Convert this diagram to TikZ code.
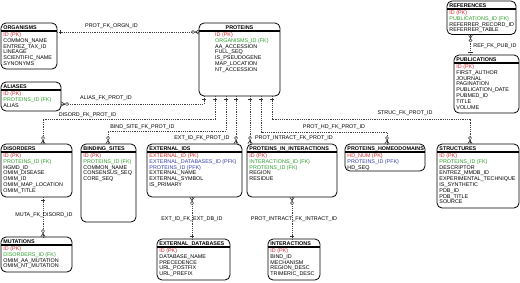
\documentclass[tikz,border=0pt]{standalone}
\usepackage{fontspec}
\setmainfont{Liberation Sans}
\usetikzlibrary{calc}
\definecolor{pkred}{RGB}{215,40,45}
\definecolor{fkgreen}{RGB}{45,160,45}
\definecolor{pfkblue}{RGB}{55,65,175}
\newcommand{\pk}[1]{\textcolor{pkred}{#1}}
\newcommand{\fk}[1]{\textcolor{fkgreen}{#1}}
\newcommand{\pfk}[1]{\textcolor{pfkblue}{#1}}
\tikzset{
 ebox/.style={draw=black, line width=0.8pt, rounded corners=5pt, inner sep=0pt, outer sep=0pt, anchor=north west, fill=white},
 titleline/.style={line width=1.3pt},
 ttext/.style={font=\fontsize{5.4}{6}\selectfont\bfseries, inner sep=0pt},
 ftext/.style={font=\fontsize{5.4}{6}\selectfont, inner sep=0pt},
 lbl/.style={font=\fontsize{5.4}{6}\selectfont, inner sep=0pt},
 conn/.style={draw=black!75, line width=0.5pt, dash pattern=on 1.2pt off 1pt},
 mk/.style={draw=black!80, line width=0.5pt, solid},
 crow/.pic={\draw[mk] (0,-2.2) -- (4,0) -- (0,2.2) (0,0) -- (4,0); \draw[mk, fill=white] (6,0) circle (1.6pt);},
 one/.pic={\draw[mk] (3,-2.2) -- (3,2.2);},
}
% #1 name, #2 x1, #3 y1, #4 x2, #5 y2, #6 title, #7 field x offset, #8 fields
\newcommand{\entity}[8]{%
 \node[ebox, minimum width={(#4-#2)*1pt}, minimum height={(#5-#3)*1pt}] (#1) at (#2,#3) {};
 \draw[titleline] (#2,#3+8) -- (#4,#3+8);
 \node[ttext, anchor=base west] (#1-t) at (#2+2.2,#3+6.5) {#6};
 \foreach \f [count=\i] in {#8} \node[ftext, anchor=base west] (#1-f\i) at (#2+#7,#3+7.7+5.8*\i) {\f};
}
\begin{document}
\begin{tikzpicture}[x=1pt,y=-1pt]
\useasboundingbox[fill=white] (0,0) rectangle (520,282);

\entity{organisms}{1}{23}{57}{69}{ORGANISMS}{2.2}{\pk{ID (PK)}, COMMON\_NAME, ENTREZ\_TAX\_ID, LINEAGE, SCIENTIFIC\_NAME, SYNONYMS}
\entity{proteins}{199}{23}{280}{96}{}{16}{\pk{ID (PK)}, \fk{ORGANISMS\_ID (FK)}, AA\_ACCESSION, FULL\_SEQ, IS\_PSEUDOGENE, MAP\_LOCATION, NT\_ACCESSION}
\node[ttext, anchor=base] (proteins-title) at (239.5,29.5) {PROTEINS};
\entity{references}{447}{1}{516}{34.5}{REFERENCES}{2.2}{\pk{ID (PK)}, \fk{PUBLICATIONS\_ID (FK)}, REFERRER\_RECORD\_ID, REFERRER\_TABLE}
\entity{publications}{454}{55}{519}{113}{PUBLICATIONS}{2.2}{\pk{ID (PK)}, FIRST\_AUTHOR, JOURNAL, PAGINATION, PUBLICATION\_DATE, PUBMED\_ID, TITLE, VOLUME}
\entity{aliases}{1}{82}{61}{111}{ALIASES}{2.2}{\pk{ID (PK)}, \fk{PROTEINS\_ID (FK)}, ALIAS}
\entity{disorders}{1}{144}{72}{197}{DISORDERS}{2.2}{\pk{ID (PK)}, \fk{PROTEINS\_ID (FK)}, HGMD\_ID, OMIM\_DISEASE, OMIM\_ID, OMIM\_MAP\_LOCATION, OMIM\_TITLE}
\entity{binding}{81}{144}{136}{222}{BINDING\_SITES}{2.2}{\pk{ID (PK)}, \fk{PROTEINS\_ID (FK)}, COMMON\_NAME, CONSENSUS\_SEQ, CORE\_SEQ}
\entity{extids}{147}{144}{242}{197}{EXTERNAL\_IDS}{2.2}{\pk{EXTERNAL\_ID (PK)}, \pfk{EXTERNAL\_DATABASES\_ID (PFK)}, \pfk{PROTEINS\_ID (PFK)}, EXTERNAL\_NAME, EXTERNAL\_SYMBOL, IS\_PRIMARY}
\entity{pii}{247}{144}{337}{197}{PROTEINS\_IN\_INTERACTIONS}{2.2}{\pk{ID (PK)}, \fk{INTERACTIONS\_ID (FK)}, \fk{PROTEINS\_ID (FK)}, REGION, RESIDUE}
\entity{homeo}{345}{144}{425}{171}{PROTEINS\_HOMEODOMAINS}{2.2}{\pk{HD\_NUM (PK)}, \pfk{PROTEINS\_ID (PFK)}, HD\_SEQ}
\entity{structures}{437}{144}{519}{208}{STRUCTURES}{2.2}{\pk{ID (PK)}, \fk{PROTEINS\_ID (FK)}, DESCRIPTOR, ENTREZ\_MMDB\_ID, EXPERIMENTAL\_TECHNIQUE, IS\_SYNTHETIC, PDB\_ID, PDB\_TITLE, SOURCE}
\entity{mutations}{1}{237}{72}{272}{MUTATIONS}{2.2}{\pk{ID (PK)}, \fk{DISORDERS\_ID (FK)}, OMIM\_AA\_MUTATION, OMIM\_NT\_MUTATION}
\entity{extdb}{157}{239}{230}{280}{EXTERNAL\_DATABASES}{2.2}{\pk{ID (PK)}, DATABASE\_NAME, PRECEDENCE, URL\_POSTFIX, URL\_PREFIX}
\entity{interactions}{268}{239}{320}{280}{INTERACTIONS}{2.2}{\pk{ID (PK)}, BIND\_ID, MECHANISM, REGION\_DESC, TRIMERIC\_DESC}

% connectors
\draw[conn] ([yshift=-9pt]organisms.north east) -- ([yshift=-9pt]proteins.north west);
\draw[conn] ([xshift=5pt]proteins.south west) |- ([yshift=-22pt]aliases.north east);
\draw[conn] ([xshift=16pt]proteins.south west) -- ++(0,23) -| ([xshift=42pt]disorders.north west);
\draw[conn] ([xshift=27pt]proteins.south west) -- ++(0,35) -| ([xshift=27pt]binding.north west);
\draw[conn] ([xshift=37pt]proteins.south west) -- ([xshift=89pt]extids.north west);
\draw[conn] ([xshift=51pt]proteins.south west) -- ([xshift=3pt]pii.north west);
\draw[conn] ([xshift=62pt]proteins.south west) -- ++(0,36) -| ([xshift=42pt]homeo.north west);
\draw[conn] ([xshift=73pt]proteins.south west) -- ++(0,23) -| ([xshift=33pt]structures.north west);
\draw[conn] ([xshift=23.5pt]references.south west) -- ([xshift=16.5pt]publications.north west);
\draw[conn] ([xshift=42pt]disorders.south west) -- ([xshift=42pt]mutations.north west);
\draw[conn] ([xshift=45pt]extids.south west) -- ([xshift=35pt]extdb.north west);
\draw[conn] ([xshift=45pt]pii.south west) -- ([xshift=24pt]interactions.north west);

% end markers
\pic at ([yshift=-9pt]organisms.north east) {one};
\pic[rotate=180] at ([yshift=-9pt]proteins.north west) {crow};
\foreach \s in {5,16,27,37,51,62,73} \pic[rotate=-90] at ([xshift=\s pt]proteins.south west) {one};
\pic at ([yshift=-22pt]aliases.north east) {crow};
\pic[rotate=90] at ([xshift=42pt]disorders.north west) {crow};
\pic[rotate=90] at ([xshift=27pt]binding.north west) {crow};
\pic[rotate=90] at ([xshift=89pt]extids.north west) {crow};
\pic[rotate=90] at ([xshift=3pt]pii.north west) {crow};
\pic[rotate=90] at ([xshift=42pt]homeo.north west) {crow};
\pic[rotate=90] at ([xshift=33pt]structures.north west) {crow};
\pic[rotate=-90] at ([xshift=23.5pt]references.south west) {crow};
\pic[rotate=90] at ([xshift=16.5pt]publications.north west) {one};
\pic[rotate=-90] at ([xshift=42pt]disorders.south west) {one};
\pic[rotate=90] at ([xshift=42pt]mutations.north west) {crow};
\pic[rotate=-90] at ([xshift=45pt]extids.south west) {crow};
\pic[rotate=90] at ([xshift=35pt]extdb.north west) {one};
\pic[rotate=-90] at ([xshift=45pt]pii.south west) {crow};
\pic[rotate=90] at ([xshift=24pt]interactions.north west) {one};

% labels
\node[lbl] (l1) at (111.5,26) {PROT\_FK\_ORGN\_ID};
\node[lbl] (l2) at (106,98) {ALIAS\_FK\_PROT\_ID};
\node[lbl] (l3) at (87.5,115) {DISORD\_FK\_PROT\_ID};
\node[lbl] (l4) at (142.5,127) {BIND\_SITE\_FK\_PROT\_ID};
\node[lbl] (l5) at (202,138) {EXT\_ID\_FK\_PROT\_ID};
\node[lbl] (l6) at (294,138) {PROT\_INTRACT\_FK\_PROT\_ID};
\node[lbl] (l7) at (334,127) {PROT\_HD\_FK\_PROT\_ID};
\node[lbl] (l8) at (405,113) {STRUC\_FK\_PROT\_ID};
\node[lbl] (l9) at (495,46) {REF\_FK\_PUB\_ID};
\node[lbl] (l10) at (44,215) {MUTA\_FK\_DISORD\_ID};
\node[lbl] (l11) at (192,219) {EXT\_ID\_FK\_EXT\_DB\_ID};
\node[lbl] (l12) at (294,219) {PROT\_INTRACT\_FK\_INTRACT\_ID};
\end{tikzpicture}
\end{document}
